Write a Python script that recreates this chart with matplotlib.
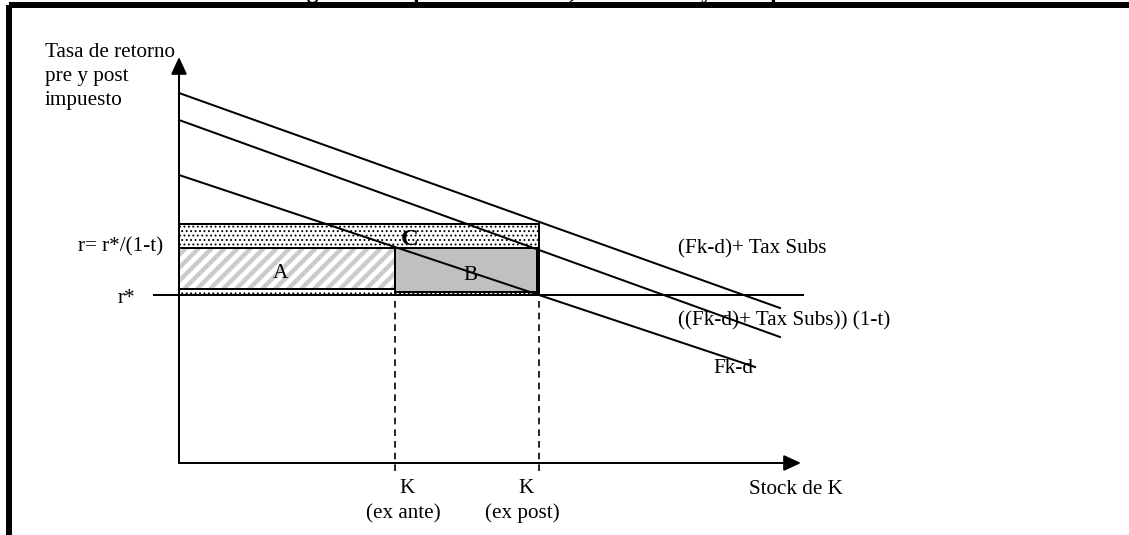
import matplotlib
matplotlib.use("Agg")
import matplotlib.pyplot as plt
from matplotlib.patches import Rectangle, FancyArrowPatch
from matplotlib.collections import LineCollection
import numpy as np

plt.rcParams['font.family'] = ['Liberation Serif', 'DejaVu Serif']

# diagram units: 1 unit = 1 px, origin at the corner of the axes
k_levels = [216, 360]            # K ex ante, K ex post
r_star = 168                     # r*
r_gross = 215                    # r = r*/(1-t)
r_subs = 239                     # top of the subsidy band (C)
a_bottom = 174
b_bottom = 171
b_right = 358

curve_labels = ['(Fk-d)+ Tax Subs', '((Fk-d)+ Tax Subs)) (1-t)', 'Fk-d']
curve_r0 = [370, 343, 288]       # value at K = 0
curve_k1 = [601, 601, 576]       # last K drawn
curve_r1 = [155, 126, 96]        # value at last K

k_labels = ['K\n(ex ante)', 'K\n(ex post)']

dpi = 80
fig = plt.figure(figsize=(1129 / dpi, 535 / dpi), dpi=dpi)
ax = fig.add_axes([0, 0, 1, 1])
ax.set_xlim(-179, 950)
ax.set_ylim(-72, 463)
ax.axis('off')

lw = 1.8
fs = 19

# outer frame (cut at the right and bottom)
ax.add_patch(Rectangle((-170.5, 458.5), 3000, -3000, fill=False,
                       edgecolor='black', linewidth=5.4, zorder=10))

# title, mostly above the top edge as in the source
ax.text(381, 465, 'Figura 2: Impuesto Subsidio, Inversiones y el Impuesto',
        ha='center', va='baseline', fontsize=21, weight='bold', zorder=11)

# C: dotted band from r* up to the subsidised rate
rect_c = Rectangle((0, r_star), k_levels[1], r_subs - r_star,
                   facecolor='white', edgecolor='black', hatch='...',
                   linewidth=lw, zorder=1)
ax.add_patch(rect_c)

# A: light diagonal stripes
rect_a = Rectangle((0, a_bottom), k_levels[0], r_gross - a_bottom,
                   facecolor='white', edgecolor='none', zorder=2)
ax.add_patch(rect_a)
offs = np.arange(-60, k_levels[0] + 20, 13)
h = r_gross - a_bottom
segs = [[(o, a_bottom), (o + h, r_gross)] for o in offs]
stripes = LineCollection(segs, colors='#cbcbcb', linewidths=4.0, zorder=2.1)
ax.add_collection(stripes)
stripes.set_clip_path(rect_a)
ax.add_patch(Rectangle((0, a_bottom), k_levels[0], r_gross - a_bottom,
                       fill=False, edgecolor='black', linewidth=lw, zorder=2.2))

# B: grey block
ax.add_patch(Rectangle((k_levels[0], b_bottom), b_right - k_levels[0],
                       r_gross - b_bottom, facecolor='#c0c0c0',
                       edgecolor='black', linewidth=lw, zorder=2))

# r* line
ax.plot([-25, 624], [r_star, r_star], color='black', lw=lw, zorder=3)

# downward sloping curves
for r0, k1, r1 in zip(curve_r0, curve_k1, curve_r1):
    ax.plot([0, k1], [r0, r1], color='black', lw=lw, zorder=3)

# dashed guides at K ex ante / ex post
ax.plot([k_levels[0], k_levels[0]], [-8, r_gross], color='black', lw=1.5,
        dashes=(4, 3), zorder=3)
ax.plot([k_levels[1], k_levels[1]], [-8, r_subs], color='black', lw=1.5,
        dashes=(4, 3), zorder=3)

# axes with arrow heads
head = '-|>,head_length=13,head_width=6'
for end in [(0, 406), (622, 0)]:
    ax.add_patch(FancyArrowPatch((0, 0), end, arrowstyle=head,
                                 mutation_scale=1, color='black', lw=lw,
                                 shrinkA=0, shrinkB=0, zorder=4))

# labels
for i, line in enumerate(['Tasa de retorno', 'pre y post', 'impuesto']):
    ax.text(-134, 406 - 24 * i, line, fontsize=fs, va='baseline', ha='left')
ax.text(-16, 212, 'r= r*/(1-t)', fontsize=fs, va='baseline', ha='right')
ax.text(-61, 160, 'r*', fontsize=fs, va='baseline', ha='left')

ax.text(101, 185, 'A', fontsize=fs, ha='center', va='baseline', zorder=5)
ax.text(291, 183, 'B', fontsize=fs, ha='center', va='baseline', zorder=2.5)
ax.text(231, 218, 'C', fontsize=22, weight='bold', ha='center',
        va='baseline', zorder=5)

ax.text(499, 210, curve_labels[0], fontsize=fs, va='baseline')
ax.text(499, 138, curve_labels[1], fontsize=fs, va='baseline')
ax.text(534, 90, curve_labels[2], fontsize=fs, va='baseline')

for x, lab in zip([226, 345], k_labels):
    top, bottom = lab.split('\n')
    ax.text(x + 2, -30, top, fontsize=fs, ha='center', va='baseline')
    ax.text(x - 2, -55, bottom, fontsize=fs, ha='center', va='baseline')
ax.text(570, -31, 'Stock de K', fontsize=fs, va='baseline')

fig.savefig('out.png', dpi=dpi)
